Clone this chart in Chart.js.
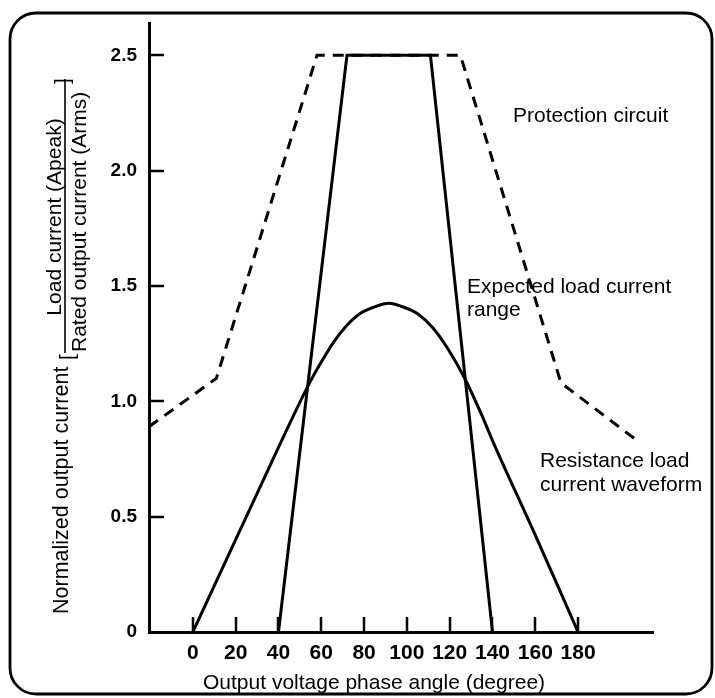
<!DOCTYPE html>
<html>
<head>
<meta charset="utf-8">
<script src="https://cdn.jsdelivr.net/npm/chart.js@4/dist/chart.umd.min.js"></script>
<style>
  html, body { margin: 0; padding: 0; background: #fff; }
  #wrap { width: 715px; height: 698px; position: relative; }
</style>
</head>
<body>
<div id="wrap"><canvas id="c" width="715" height="698"></canvas></div>
<script>
// ---- Data ----
const xTickValues = [0, 20, 40, 60, 80, 100, 120, 140, 160, 180];
const yTickValues = [0, 0.5, 1.0, 1.5, 2.0, 2.5];

const protectionX = [-20.5, 11, 58, 125, 172, 207.5];
const protectionY = [0.89, 1.10, 2.5, 2.5, 1.08, 0.83];

const expectedX = [40, 72, 111, 140];
const expectedY = [0, 2.5, 2.5, 0];

const resistanceX = [0, 20, 40, 54, 60, 66, 72, 78, 85, 91.5, 98, 105, 112, 119, 127, 135, 140, 160, 180];
const resistanceY = [0, 0.40, 0.80, 1.07, 1.17, 1.26, 1.33, 1.38, 1.41, 1.425, 1.41, 1.38, 1.32, 1.23, 1.10, 0.94, 0.83, 0.42, 0];

const xTitle = 'Output voltage phase angle (degree)';
const yTitleMain = 'Normalized output current';
const yTitleNum = 'Load current (Apeak)';
const yTitleDen = 'Rated output current (Arms)';
const labelProtection = ['Protection circuit'];
const labelExpected = ['Expected load current', 'range'];
const labelResistance = ['Resistance load', 'current waveform'];

const toPts = (xs, ys) => xs.map((x, i) => ({ x: x, y: ys[i] }));

const TEXT_FONT = "'Liberation Sans', Arial, Helvetica, sans-serif";
const TICK_FONT = "'Liberation Sans', Arial, Helvetica, sans-serif";

const framePlugin = {
  id: 'frame',
  beforeDraw(chart) {
    const ctx = chart.ctx;
    ctx.save();
    ctx.fillStyle = '#fff';
    ctx.fillRect(0, 0, chart.width, chart.height);
    ctx.strokeStyle = '#000';
    ctx.lineWidth = 2.8;
    ctx.beginPath();
    ctx.roundRect(10, 13, 702, 681, 26);
    ctx.stroke();
    ctx.restore();
  }
};

// inward tick marks, placed through the chart's own scales
const innerTicksPlugin = {
  id: 'innerTicks',
  afterDraw(chart) {
    const ctx = chart.ctx;
    const xs = chart.scales.x, ys = chart.scales.y;
    const area = chart.chartArea;
    ctx.save();
    ctx.setLineDash([]);
    ctx.strokeStyle = '#000';
    ctx.lineWidth = 2.5;
    ctx.lineCap = 'butt';
    xTickValues.forEach(v => {
      const px = Math.round(xs.getPixelForValue(v));
      ctx.beginPath();
      ctx.moveTo(px, area.bottom);
      ctx.lineTo(px, area.bottom - 15);
      ctx.stroke();
    });
    yTickValues.forEach(v => {
      if (v === 0) return;
      const py = Math.round(ys.getPixelForValue(v));
      ctx.beginPath();
      ctx.moveTo(area.left, py);
      ctx.lineTo(area.left + 15, py);
      ctx.stroke();
    });
    ctx.restore();
  }
};

function rotText(ctx, text, bx, sy, align) {
  ctx.save();
  ctx.translate(bx, sy);
  ctx.rotate(-Math.PI / 2);
  ctx.textAlign = align;
  ctx.textBaseline = 'alphabetic';
  ctx.fillText(text, 0, 0);
  ctx.restore();
}

const textPlugin = {
  id: 'texts',
  afterDraw(chart) {
    const ctx = chart.ctx;
    ctx.save();
    ctx.fillStyle = '#000';
    ctx.font = '21px ' + TEXT_FONT;
    ctx.textAlign = 'left';
    ctx.textBaseline = 'alphabetic';
    // annotations
    ctx.fillText(labelProtection[0], 513, 122);
    ctx.fillText(labelExpected[0], 467, 293);
    ctx.fillText(labelExpected[1], 467, 316);
    ctx.fillText(labelResistance[0], 540, 467);
    ctx.fillText(labelResistance[1], 540, 491);
    // x axis title
    ctx.fillText(xTitle, 203, 689);
    // y axis title (rotated)
    ctx.font = '21.5px ' + TEXT_FONT;
    rotText(ctx, yTitleMain, 68, 614, 'left');
    ctx.font = '21px ' + TEXT_FONT;
    rotText(ctx, '[', 74, 360, 'left');
    rotText(ctx, yTitleNum, 61, 217, 'center');
    rotText(ctx, yTitleDen, 86, 352, 'left');
    rotText(ctx, ']', 69, 84, 'left');
    ctx.strokeStyle = '#000';
    ctx.lineWidth = 1.6;
    ctx.beginPath();
    ctx.moveTo(65, 353);
    ctx.lineTo(65, 79);
    ctx.stroke();
    ctx.restore();
  }
};

new Chart(document.getElementById('c'), {
  type: 'line',
  data: {
    datasets: [
      {
        label: 'Protection circuit',
        data: toPts(protectionX, protectionY),
        borderColor: '#000',
        borderWidth: 3,
        borderDash: [11, 8],
        pointRadius: 0,
        tension: 0,
        fill: false
      },
      {
        label: 'Expected load current range',
        data: toPts(expectedX, expectedY),
        borderColor: '#000',
        borderWidth: 3,
        pointRadius: 0,
        tension: 0,
        fill: false
      },
      {
        label: 'Resistance load current waveform',
        data: toPts(resistanceX, resistanceY),
        borderColor: '#000',
        borderWidth: 3,
        pointRadius: 0,
        cubicInterpolationMode: 'monotone',
        fill: false
      }
    ]
  },
  options: {
    responsive: false,
    animation: false,
    events: [],
    layout: { padding: { top: 23, right: 62, left: 0, bottom: 0 } },
    plugins: { legend: { display: false }, tooltip: { enabled: false }, title: { display: false } },
    scales: {
      x: {
        type: 'linear',
        min: -20.5,
        max: 215,
        afterBuildTicks(scale) { scale.ticks = xTickValues.map(v => ({ value: v })); },
        afterFit(scale) {
          scale.height = 66;
          scale.paddingLeft = 0; scale.paddingRight = 0;
        },
        grid: { drawOnChartArea: false, drawTicks: false },
        border: { display: true, color: '#000', width: 3 },
        ticks: {
          color: '#000',
          padding: 9,
          maxRotation: 0,
          autoSkip: false,
          font: { family: TICK_FONT, size: 21, weight: 'bold' },
          callback: (v) => String(v)
        }
      },
      y: {
        type: 'linear',
        min: 0,
        max: 2.64,
        afterBuildTicks(scale) { scale.ticks = yTickValues.map(v => ({ value: v })); },
        afterFit(scale) {
          scale.width = 149;
          scale.paddingTop = 0; scale.paddingBottom = 0;
        },
        grid: { drawOnChartArea: false, drawTicks: false },
        border: { display: true, color: '#000', width: 3 },
        ticks: {
          color: '#000',
          padding: 12,
          autoSkip: false,
          font: { family: TICK_FONT, size: 19, weight: 'bold' },
          callback: (v) => (v === 0 ? '0' : v.toFixed(1))
        }
      }
    }
  },
  plugins: [framePlugin, innerTicksPlugin, textPlugin]
});
</script>
</body>
</html>
